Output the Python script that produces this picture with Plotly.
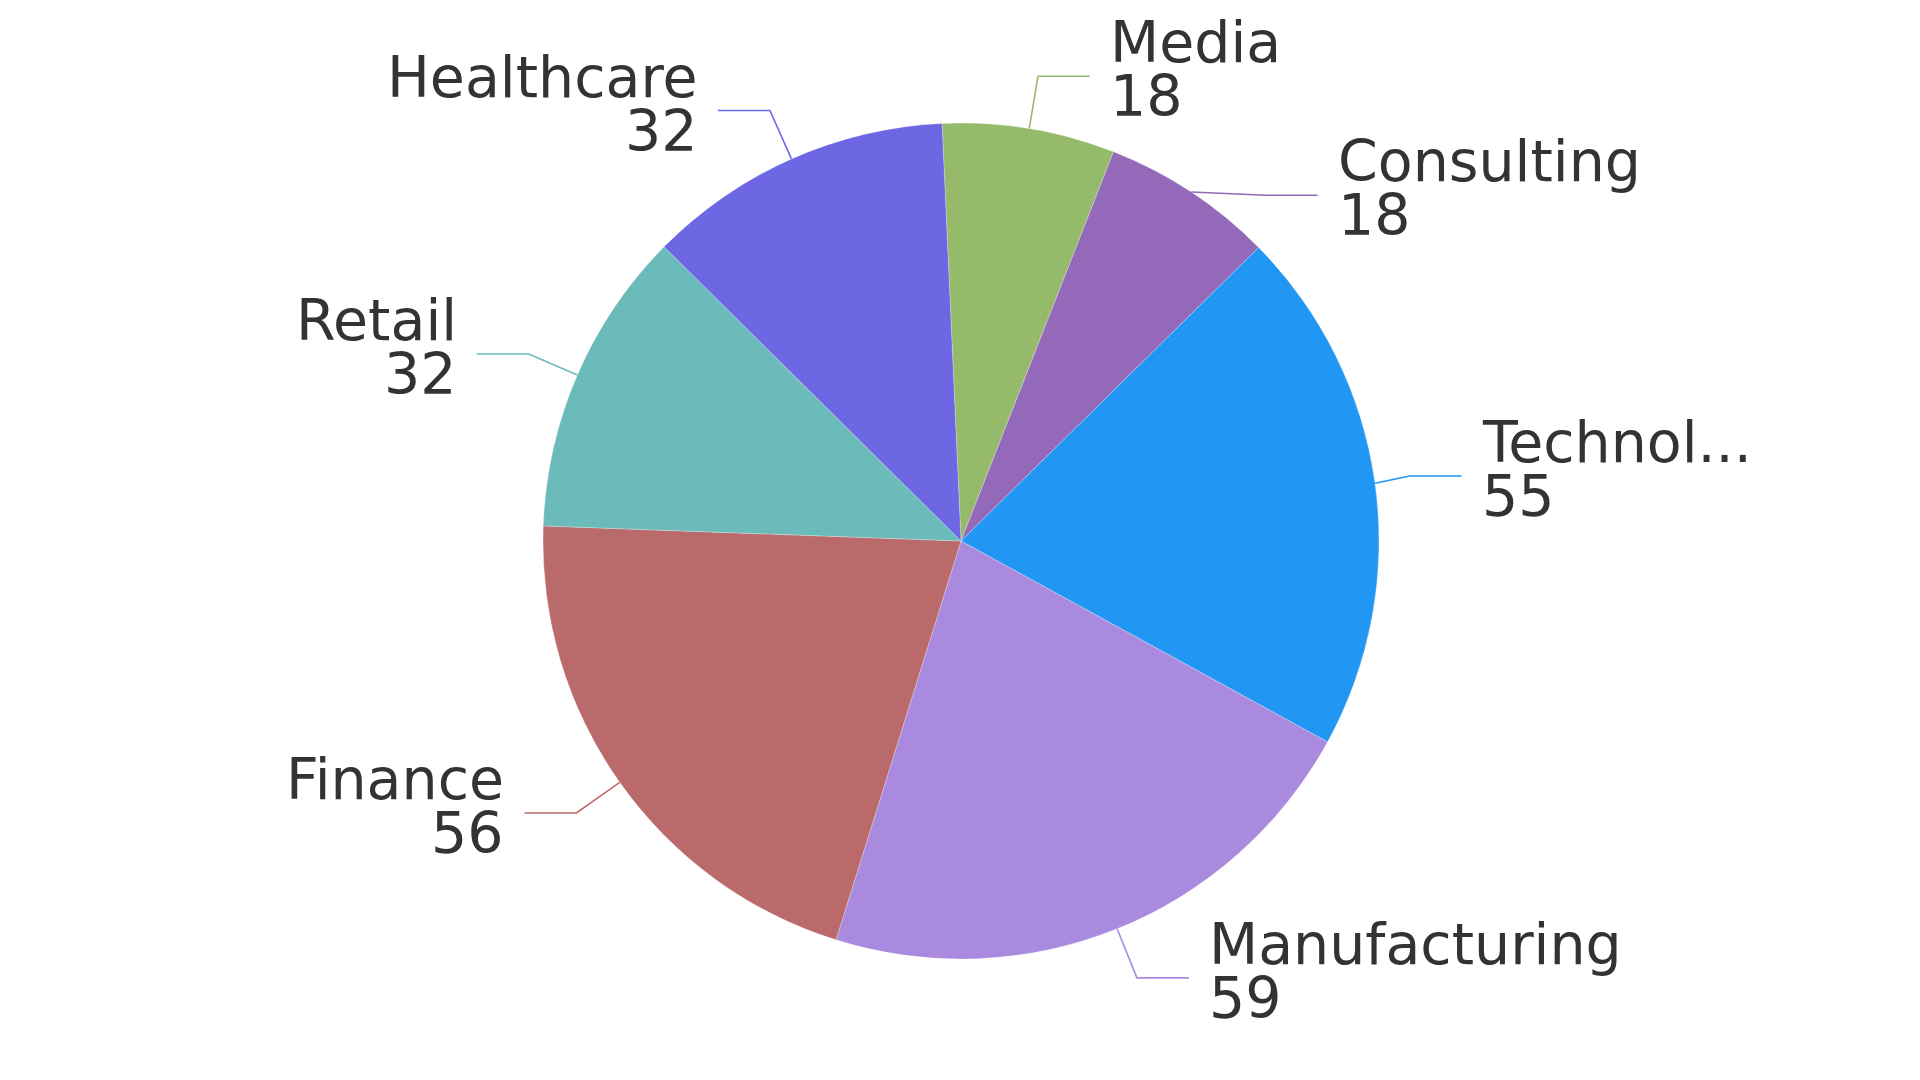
import math
import plotly.graph_objects as go

W, H = 1920, 1080

sectors = ["Media", "Consulting", "Technology", "Manufacturing", "Finance", "Retail", "Healthcare"]
counts = [18, 18, 55, 59, 56, 32, 32]
colors = ["#94ba6a", "#9469b9", "#2196f3", "#a98adf", "#ba6a6a", "#6cbbbb", "#6d67e4"]
shown = {"Technology": "Technol..."}   # the original chart cuts this one short

# --- pie geometry, page pixels ---
CX, CY, R = 953, 533, 418
START = -2.6                  # first slice starts this many deg clockwise of 12 o'clock
LEN1, LEN2, DIST = 53, 52, 18  # radial leg, flat leg, gap before the text
LABEL_H = 119                 # two-line label block, used to push overlapping labels apart
FONT = "DejaVu Sans"
FS = 57

total = sum(counts)
labels = []
acc = 0.0
for name, v, col in zip(sectors, counts, colors):
    mid = math.radians(START + (acc + v / 2) / total * 360)
    acc += v
    s, c = math.sin(mid), math.cos(mid)
    side = 1 if s >= 0 else -1
    ex = CX + (R + LEN1) * s
    labels.append(dict(name=name, v=v, col=col, side=side,
                       ax=CX + R * s, ay=CY - R * c,
                       ex=ex, ey=CY - (R + LEN1) * c,
                       tx=ex + side * (LEN2 + DIST)))

# label overlap handling, echarts style: push down, then re-seat x on an ellipse
rA = R + LEN1
for side in (1, -1):
    grp = sorted([l for l in labels if l["side"] == side], key=lambda l: l["ey"])
    moved = False
    for a, b in zip(grp, grp[1:]):
        if b["ey"] - a["ey"] < LABEL_H:
            b["ey"] = a["ey"] + LABEL_H
            moved = True
    if not moved:
        continue
    for half in (lambda l: l["ey"] <= CY, lambda l: l["ey"] > CY):
        semi = [l for l in grp if half(l)]
        if not semi:
            continue
        far = max(semi, key=lambda l: abs(l["ey"] - CY))
        dx0 = abs(far["tx"] - CX) - LEN2
        rB = abs(far["ey"] - CY) / math.sqrt(1 - (dx0 / rA) ** 2)
        for l in semi:
            dy = l["ey"] - CY
            dx = math.sqrt(max(1 - dy * dy / (rB * rB), 0)) * rA
            l["tx"] = CX + side * (dx + LEN2)
            l["ex"] = l["tx"] - side * (LEN2 + DIST)

fig = go.Figure()
fig.add_trace(go.Pie(
    labels=sectors, values=counts, sort=False, direction="clockwise", rotation=START,
    marker=dict(colors=colors, line=dict(color="rgba(255,255,255,0.5)", width=0.5)),
    textinfo="none", hoverinfo="label+value", showlegend=False,
    domain=dict(x=[(CX - R) / W, (CX + R) / W], y=[1 - (CY + R) / H, 1 - (CY - R) / H]),
))

annotations = []
for l in labels:
    endx = l["ex"] + l["side"] * LEN2
    fig.add_trace(go.Scatter(
        x=[l["ax"], l["ex"], endx], y=[l["ay"], l["ey"], l["ey"]],
        mode="lines", line=dict(color=l["col"], width=1.6),
        hoverinfo="skip", showlegend=False))
    anchor = "left" if l["side"] > 0 else "right"
    for txt, off in ((shown.get(l["name"], l["name"]), -34), (str(l["v"]), 20)):
        annotations.append(dict(
            x=l["tx"], y=l["ey"] + off, xref="x", yref="y", text=txt, showarrow=False,
            xanchor=anchor, yanchor="middle",
            font=dict(family=FONT, size=FS, color="#333333")))

fig.update_layout(
    width=W, height=H, margin=dict(l=0, r=0, t=0, b=0),
    paper_bgcolor="white", plot_bgcolor="white",
    xaxis=dict(range=[0, W], visible=False, fixedrange=True),
    yaxis=dict(range=[H, 0], visible=False, fixedrange=True),
    annotations=annotations,
)
fig.write_html("out.html")
